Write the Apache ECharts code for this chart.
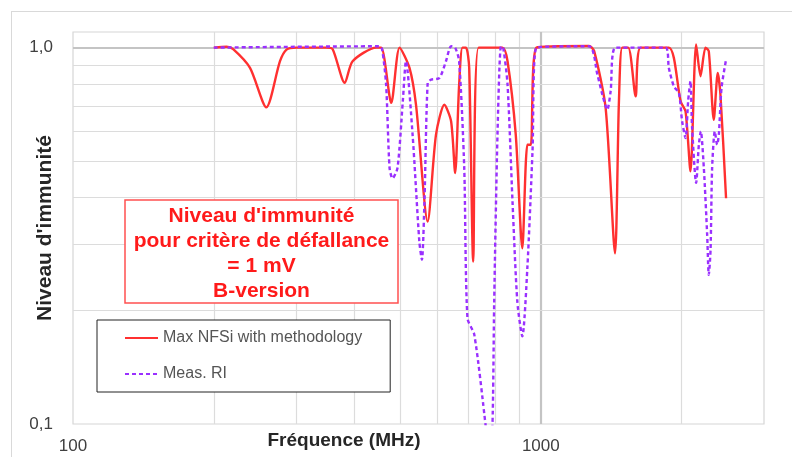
<!DOCTYPE html>
<html>
<head>
<meta charset="utf-8">
<script src="https://cdn.jsdelivr.net/npm/echarts@6/dist/echarts.min.js"></script>
<style>
html,body{margin:0;padding:0;background:#fff;overflow:hidden;}
#frame{position:absolute;left:11px;top:11px;width:820px;height:480px;border:1px solid #d9d9d9;box-sizing:border-box;}
#chart{position:absolute;left:0;top:0;width:792px;height:457px;}
</style>
</head>
<body>
<div id="frame"></div>
<div id="chart"></div>
<script>
// ---- data ----
const freqNFSi = [200,213,220,239,259,277,286,300,348,359,381,396,445,456,479,499,524,541,573,597,622,643,656,669,680,692,703,717,736,828,849,884,913,936,952,979,1268,1300,1376,1441,1469,1493,1538,1595,1635,1878,1925,1990,2039,2089,2148,2195,2249,2286,2343,2389,2421,2489];
const valNFSi  = [1.0,1.005,0.99,0.883,0.694,0.92,0.988,1.0,1.0,0.99,0.806,0.92,1.0,1.0,0.713,1.0,0.883,0.705,0.345,0.587,0.705,0.637,0.464,0.797,1.0,1.0,0.883,0.27,1.0,1.0,0.92,0.587,0.293,0.552,0.552,1.0,1.01,0.98,0.69,0.284,0.72,1.0,1.0,0.742,1.0,1.0,0.939,0.72,0.677,0.469,1.02,0.839,1.0,0.978,0.643,0.856,0.75,0.398];

const freqMeas = [200,452,458,467,475,482,494,507,515,532,550,557,564,573,583,607,627,643,656,669,686,697,721,763,776,788,795,808,822,831,849,870,891,913,936,960,979,1268,1321,1354,1387,1410,1445,1848,1878,1925,1973,2005,2039,2065,2089,2106,2148,2177,2198,2231,2268,2286,2306,2324,2355,2382,2402,2434,2489];
const valMeas  = [1.0,1.008,0.988,0.797,0.479,0.449,0.479,0.72,0.92,0.587,0.305,0.273,0.39,0.806,0.822,0.83,0.92,1.008,1.0,0.92,0.479,0.191,0.1725,0.098,0.08,0.098,0.211,0.587,1.008,1.0,0.797,0.39,0.211,0.171,0.26,0.53,1.0,1.008,0.848,0.75,0.684,0.765,1.0,1.0,0.883,0.789,0.758,0.637,0.575,0.72,0.814,0.612,0.437,0.552,0.599,0.479,0.318,0.249,0.29,0.479,0.599,0.552,0.587,0.781,0.929];

const seriesNames = ['Max NFSi with methodology', 'Meas. RI'];
const xMinorGrid = [200,300,400,500,600,700,800,900,2000];
const xMajorGrid = [1000];
const yMinorGrid = [0.2,0.3,0.4,0.5,0.6,0.7,0.8,0.9];
const yMajorGrid = [1.0];
const xTickLabels = [100, 1000];
const yTickLabels = [0.1, 1.0];
const boxLines = ["Niveau d'immunité", 'pour critère de défallance', '= 1 mV', 'B-version'];

const FONT = "'Liberation Sans', Arial, sans-serif";

const chart = echarts.init(document.getElementById('chart'), null, {renderer: 'canvas'});

function pairs(xs, ys){ return xs.map((x,i)=>[x, ys[i]]); }
function near(a, list){ return list.some(v => Math.abs(v - a) / v < 1e-6); }

const gridMarks = []
  .concat(xMinorGrid.map(v => ({xAxis: v, lineStyle:{color:'#dcdcdc', width:1.2, type:'solid'}})))
  .concat(xMajorGrid.map(v => ({xAxis: v, lineStyle:{color:'#c4c4c4', width:2.2, type:'solid'}})))
  .concat(yMinorGrid.map(v => ({yAxis: v, lineStyle:{color:'#dcdcdc', width:1.2, type:'solid'}})))
  .concat(yMajorGrid.map(v => ({yAxis: v, lineStyle:{color:'#c4c4c4', width:2, type:'solid'}})));

const option = {
  animation: false,
  backgroundColor: 'transparent',
  grid: {left: 73, top: 32, right: 28, bottom: 33, show: true, borderColor: '#d6d6d6', borderWidth: 1.2, backgroundColor: 'transparent'},
  xAxis: {
    type: 'log', logBase: 10, min: 100, max: 3000,
    axisLine: {show: false}, axisTick: {show: false}, splitLine: {show: false},
    axisLabel: {
      margin: 14, fontSize: 17, color: '#404040', fontFamily: FONT,
      showMinLabel: true, showMaxLabel: true,
      formatter: v => near(v, xTickLabels) ? String(Math.round(v)) : ''
    }
  },
  yAxis: {
    type: 'log', logBase: 10, min: 0.1, max: 1.1,
    axisLine: {show: false}, axisTick: {show: false}, splitLine: {show: false},
    axisLabel: {
      margin: 20, fontSize: 17, color: '#404040', fontFamily: FONT,
      formatter: v => near(v, yTickLabels) ? v.toFixed(1).replace('.', ',') : ''
    }
  },
  legend: {
    orient: 'vertical', left: 97, top: 320,
    padding: [10, 28, 10, 27], itemGap: 20, itemWidth: 33, itemHeight: 16,
    borderColor: '#222', borderWidth: 1, backgroundColor: '#fff', borderRadius: 0,
    textStyle: {fontSize: 16, color: '#555', fontFamily: FONT},
    itemStyle: {color: 'rgba(0,0,0,0)', borderColor: 'rgba(0,0,0,0)', borderWidth: 0, opacity: 0},
    data: seriesNames, selectedMode: false, z: 10
  },
  series: [
    {
      name: '_grid', type: 'line', data: [], silent: true, z: 1,
      markLine: {silent: true, z: 1, symbol: ['none','none'], label: {show: false}, animation: false, data: gridMarks}
    },
    {
      name: seriesNames[0], type: 'line', data: pairs(freqNFSi, valNFSi),
      showSymbol: false, symbol: 'none', smooth: 0.25, z: 3,
      lineStyle: {color: '#ff3030', width: 2.4}, itemStyle: {color: '#ff3030'}
    },
    {
      name: seriesNames[1], type: 'line', data: pairs(freqMeas, valMeas),
      showSymbol: false, symbol: 'none', smooth: 0.25, z: 4,
      lineStyle: {color: '#9a30ff', width: 2.4, type: [4, 3]}, itemStyle: {color: '#9a30ff'}
    }
  ],
  graphic: {
    elements: [
      {
        type: 'text', x: 344, y: 441, z: 100,
        style: {text: 'Fréquence (MHz)', font: "bold 19px " + FONT, fill: '#262626', align: 'center', verticalAlign: 'middle'}
      },
      {
        type: 'text', x: 45, y: 228, rotation: Math.PI / 2, z: 100,
        style: {text: "Niveau d'immunité", font: "bold 21px " + FONT, fill: '#262626', align: 'center', verticalAlign: 'middle'}
      },
      {
        type: 'rect', z: 100, shape: {x: 125, y: 200, width: 273, height: 103},
        style: {fill: '#fff', stroke: '#ff5050', lineWidth: 1.5}
      },
      {
        type: 'text', z: 101, x: 261.5, y: 253.5,
        style: {text: boxLines.join('\n'), font: "bold 21px " + FONT, fill: '#ff1a1a', align: 'center', verticalAlign: 'middle', lineHeight: 25}
      }
    ]
  }
};
chart.setOption(option);
</script>
</body>
</html>
